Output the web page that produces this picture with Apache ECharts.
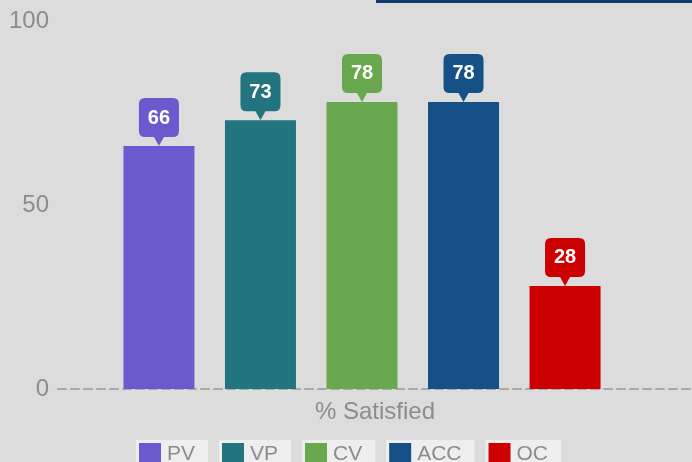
<!DOCTYPE html>
<html>
<head>
<meta charset="utf-8">
<script src="https://cdn.jsdelivr.net/npm/echarts@6/dist/echarts.min.js"></script>
<style>
  html, body { margin: 0; padding: 0; background: #dcdcdc; }
  #chart { width: 692px; height: 462px; }
</style>
</head>
<body>
<div id="chart"></div>
<script>
const categories = ["% Satisfied"];
const seriesNames = ["PV", "VP", "CV", "ACC", "OC"];
const seriesValues = [66, 73, 78, 78, 28];
const seriesColors = ["#6b5acd", "#22747f", "#6aa84f", "#155087", "#cc0000"];
const yTicks = { min: 0, max: 100, step: 50 };

const FONT = "'Liberation Sans', Arial, sans-serif";
const GREY = "#8c8c8c";

// callout shape: rounded box with a small pointer underneath
const calloutPath =
  "path://M6,0 H34 Q40,0 40,6 V33 Q40,39 34,39 H25 L20,48 L15,39 H6 Q0,39 0,33 V6 Q0,0 6,0 Z";

const chart = echarts.init(document.getElementById("chart"), null, { renderer: "canvas" });

const legendRich = { t: { padding: [0, 0, 0, 6], fontSize: 21, color: GREY, fontFamily: FONT } };
seriesColors.forEach((c, i) => {
  legendRich["s" + i] = { backgroundColor: c, width: 22, height: 22 };
});

chart.setOption({
  backgroundColor: "#dcdcdc",
  animation: false,
  textStyle: { fontFamily: FONT },
  graphic: [
    { type: "rect", left: 376, top: 0, shape: { width: 316, height: 3 }, style: { fill: "#103e6c" } },
  ],
  grid: [
    { left: 58, right: 26, top: 21, bottom: 73 },
    { left: 58, right: 0, top: 21, bottom: 73 },
  ],
  legend: {
    data: seriesNames,
    top: 435,
    left: "center",
    itemGap: 6,
    itemWidth: 0,
    itemHeight: 0,
    formatter: (name) => `{s${seriesNames.indexOf(name)}|}{t|${name}}`,
    textStyle: {
      backgroundColor: "#eeeeee",
      padding: [3, 13, 3, 3],
      rich: legendRich,
    },
  },
  xAxis: [
    {
      type: "category",
      gridIndex: 0,
      data: categories,
      axisLine: { show: false },
      axisTick: { show: false },
      axisLabel: { show: false },
    },
    {
      type: "category",
      gridIndex: 1,
      data: categories,
      axisLine: { lineStyle: { color: "#a9a9a9", width: 2, type: [8, 5] } },
      axisTick: { show: false },
      axisLabel: { color: GREY, fontSize: 24, margin: 11, fontFamily: FONT },
    },
  ],
  yAxis: [
    {
      type: "value",
      gridIndex: 0,
      min: yTicks.min,
      max: yTicks.max,
      interval: yTicks.step,
      axisLine: { show: false },
      axisTick: { show: false },
      splitLine: { show: false },
      axisLabel: { color: GREY, fontSize: 24, margin: 9, fontFamily: FONT, padding: [3, 0, 0, 0] },
    },
    {
      type: "value",
      gridIndex: 1,
      min: yTicks.min,
      max: yTicks.max,
      show: false,
    },
  ],
  series: seriesNames.map((name, i) => ({
    name,
    type: "bar",
    xAxisIndex: 0,
    yAxisIndex: 0,
    data: [seriesValues[i]],
    barWidth: 71,
    barGap: "43%",
    itemStyle: { color: seriesColors[i] },
    markPoint: {
      silent: true,
      symbol: calloutPath,
      symbolSize: [40, 48],
      symbolOffset: [0, "-50%"],
      itemStyle: { color: seriesColors[i] },
      label: {
        show: true,
        position: "inside",
        offset: [0, -4],
        color: "#ffffff",
        fontSize: 20,
        fontWeight: "bold",
        fontFamily: FONT,
        formatter: (p) => p.value,
      },
      data: [{ type: "max" }],
    },
  })),
});
</script>
</body>
</html>
